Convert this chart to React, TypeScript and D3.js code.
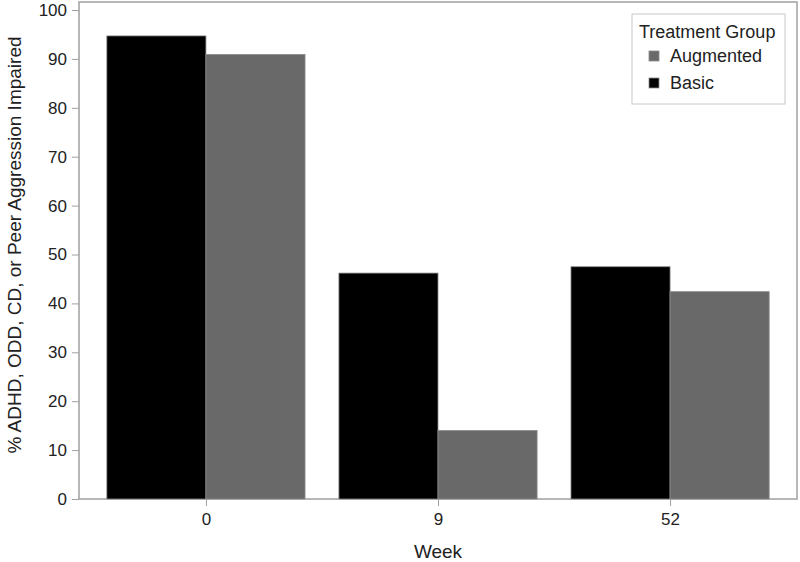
import React, { useRef, useEffect } from "react";
import * as d3 from "d3";

const weeks = ["0", "9", "52"];
const groups = ["Basic", "Augmented"];
const basicValues = [94.7, 46.2, 47.5];
const augmentedValues = [90.9, 14.0, 42.4];
const yTicks = [0, 10, 20, 30, 40, 50, 60, 70, 80, 90, 100];
const legendOrder = ["Augmented", "Basic"];

const colors: Record<string, string> = { Basic: "#000000", Augmented: "#696969" };

const App = () => {
  const svgRef = useRef<SVGSVGElement>(null);

  useEffect(() => {
    const svg = d3.select(svgRef.current);
    svg.selectAll("*").remove();

    const width = 800;
    const height = 562;
    const margin = { top: 2, right: 3, bottom: 63, left: 79 };
    const font = "'Liberation Sans', Arial, sans-serif";

    svg.attr("width", width).attr("height", height);

    const x = d3
      .scalePoint()
      .domain(weeks)
      .range([margin.left, width - margin.right])
      .padding(0.547);

    const step = x.step();
    const inner = d3
      .scaleBand()
      .domain(groups)
      .range([-step * 0.427, step * 0.427])
      .padding(0);

    const y = d3
      .scaleLinear()
      .domain([0, 100])
      .range([height - margin.bottom, 10]);

    const data = weeks.map((w, i) => ({
      week: w,
      values: [
        { group: "Basic", value: basicValues[i] },
        { group: "Augmented", value: augmentedValues[i] },
      ],
    }));

    // frame
    svg
      .append("rect")
      .attr("x", margin.left)
      .attr("y", margin.top)
      .attr("width", width - margin.left - margin.right)
      .attr("height", height - margin.bottom - margin.top)
      .attr("fill", "white")
      .attr("stroke", "#a0a0a0")
      .attr("stroke-width", 1.5);

    // bars
    svg
      .selectAll("g.week")
      .data(data)
      .join("g")
      .attr("class", "week")
      .attr("transform", d => `translate(${x(d.week)},0)`)
      .selectAll("rect")
      .data(d => d.values)
      .join("rect")
      .attr("x", d => inner(d.group)!)
      .attr("y", d => y(d.value))
      .attr("width", inner.bandwidth())
      .attr("height", d => y(0) - y(d.value))
      .attr("fill", d => colors[d.group])
      .attr("stroke", "#8a8a8a")
      .attr("stroke-width", 0.8);

    // y axis
    const yAxis = svg
      .append("g")
      .attr("transform", `translate(${margin.left},0)`)
      .call(d3.axisLeft(y).tickValues(yTicks).tickSize(7).tickPadding(5));
    yAxis.select(".domain").remove();
    yAxis.selectAll("line").attr("stroke", "#a0a0a0");
    yAxis
      .selectAll("text")
      .attr("fill", "#222")
      .style("font-family", font)
      .style("font-size", "17px");

    // x axis
    const xAxis = svg
      .append("g")
      .attr("transform", `translate(0,${height - margin.bottom})`)
      .call(d3.axisBottom(x).tickSize(7).tickPadding(7));
    xAxis.select(".domain").remove();
    xAxis.selectAll("line").attr("stroke", "#a0a0a0");
    xAxis
      .selectAll("text")
      .attr("fill", "#222")
      .style("font-family", font)
      .style("font-size", "17px");

    // axis titles
    svg
      .append("text")
      .attr("x", (margin.left + width - margin.right) / 2)
      .attr("y", 558)
      .attr("text-anchor", "middle")
      .attr("fill", "#222")
      .style("font-family", font)
      .style("font-size", "19px")
      .text("Week");

    svg
      .append("text")
      .attr("transform", `translate(21,245) rotate(-90)`)
      .attr("text-anchor", "middle")
      .attr("fill", "#222")
      .style("font-family", font)
      .style("font-size", "19px")
      .text("% ADHD, ODD, CD, or Peer Aggression Impaired");

    // legend
    const legend = svg.append("g").attr("transform", "translate(632,14)");
    legend
      .append("rect")
      .attr("width", 153)
      .attr("height", 90)
      .attr("fill", "white")
      .attr("stroke", "#c8c8c8")
      .attr("stroke-width", 1);
    legend
      .append("text")
      .attr("x", 7)
      .attr("y", 24)
      .attr("fill", "#222")
      .style("font-family", font)
      .style("font-size", "18px")
      .text("Treatment Group");
    const items = legend
      .selectAll("g.item")
      .data(legendOrder)
      .join("g")
      .attr("class", "item")
      .attr("transform", (d, i) => `translate(17,${37 + i * 27})`);
    items
      .append("rect")
      .attr("width", 10)
      .attr("height", 10)
      .attr("fill", d => colors[d])
      .attr("stroke", "#8a8a8a")
      .attr("stroke-width", 0.8);
    items
      .append("text")
      .attr("x", 21)
      .attr("y", 11)
      .attr("fill", "#222")
      .style("font-family", font)
      .style("font-size", "18px")
      .text(d => d);
  }, []);

  return <svg ref={svgRef} style={{ position: "absolute", left: 0, top: 0 }} />;
};

export default App;
